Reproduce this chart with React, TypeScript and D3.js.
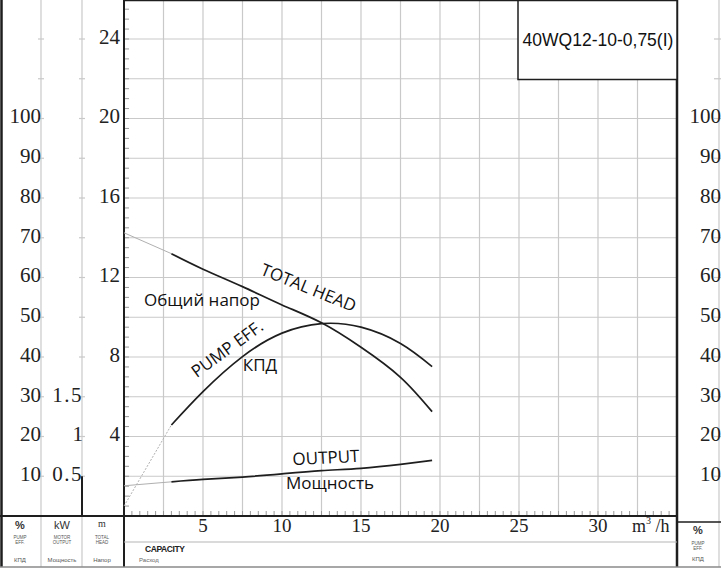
import React from "react";
import * as d3 from "d3";

// ---- data ----
const Q = [3, 5, 7.5, 10, 12.5, 15, 17.5, 19.5];
const HEAD = [13.2, 12.42, 11.54, 10.62, 9.72, 8.49, 6.98, 5.25];
const EFF = [22.9, 31.3, 40.1, 46.0, 48.4, 47.5, 43.4, 37.6];
const POWER = [0.43, 0.46, 0.49, 0.53, 0.57, 0.6, 0.65, 0.7];
const EXT_Q = [0, 3];
const HEAD_EXT = [14.25, 13.2];
const EFF_EXT = [2.5, 22.9];
const POWER_EXT = [0.38, 0.43];

const X_TICKS = [5, 10, 15, 20, 25, 30];
const HEAD_TICKS = [4, 8, 12, 16, 20, 24];
const EFF_TICKS = [10, 20, 30, 40, 50, 60, 70, 80, 90, 100];
const KW_TICKS = [0.5, 1, 1.5];
const MODEL = "40WQ12-10-0,75(I)";

const W = 721;
const H = 571;
const X0 = 124;
const X1 = 677;
const Y0 = 516;

const serif = "'Liberation Serif', 'DejaVu Serif', serif";
const sans = "'Open Sans', 'Liberation Sans', sans-serif";
const arial = "'Liberation Sans', Arial, sans-serif";
const GRID = "#c9c9c9";
const INK = "#1e1e1e";

export default function App() {
  const x = d3.scaleLinear().domain([0, 35]).range([X0, X1]);
  const yH = d3.scaleLinear().domain([0, 24]).range([Y0, 39]);
  const yE = d3.scaleLinear().domain([0, 100]).range([Y0, yH(20)]);
  const yP = d3.scaleLinear().domain([0, 0.5]).range([Y0, yH(2)]);

  const mk = (ys: number[], ysc: d3.ScaleLinear<number, number>, qs = Q, curve: any = d3.curveNatural) =>
    d3
      .line<number>()
      .x((_, i) => x(qs[i]))
      .y((v) => ysc(v))
      .curve(curve)(ys) || "";

  const vGrid = d3.range(1, 14).map((k) => k * 2.5);
  const hGrid = d3.range(1, 13).map((k) => k * 2);
  const minorH = d3.range(0, 26.01, 0.5);
  const minorQ = d3.range(0, 35.01, 0.5);
  const sideTicks = d3.range(1, 13).map((k) => yH(k * 2));

  return (
    <div style={{ position: "absolute", left: 0, top: 0 }}>
      <svg width={W} height={H} viewBox={`0 0 ${W} ${H}`} style={{ display: "block", background: "#fff" }}>
        <rect x={0} y={0} width={W} height={H} fill="#fff" />

        {/* plot grid */}
        {vGrid.map((q) => (
          <line key={"vg" + q} x1={x(q)} x2={x(q)} y1={0} y2={Y0} stroke={GRID} strokeWidth={1.2} />
        ))}
        {hGrid.map((h) => (
          <line key={"hg" + h} x1={X0} x2={X1} y1={yH(h)} y2={yH(h)} stroke={GRID} strokeWidth={1.2} />
        ))}
        {minorH.map((h) => (
          <line key={"mh" + h} x1={X0} x2={X0 + 5} y1={yH(h)} y2={yH(h)} stroke="#9a9a9a" strokeWidth={1} />
        ))}
        {minorQ.map((q) => (
          <line key={"mq" + q} x1={x(q)} x2={x(q)} y1={Y0} y2={Y0 - 5} stroke="#9a9a9a" strokeWidth={1} />
        ))}

        {/* left columns */}
        <line x1={41} x2={41} y1={0} y2={567} stroke={GRID} strokeWidth={1.2} />
        <line x1={82} x2={82} y1={0} y2={567} stroke={GRID} strokeWidth={1.2} />
        {sideTicks.map((y) => (
          <g key={"st" + y}>
            <line x1={38} x2={44} y1={y} y2={y} stroke={GRID} strokeWidth={1.2} />
            <line x1={79} x2={85} y1={y} y2={y} stroke={GRID} strokeWidth={1.2} />
            <line x1={714} x2={721} y1={y} y2={y} stroke={GRID} strokeWidth={1.2} />
          </g>
        ))}
        <line x1={82} x2={82} y1={yP(0.5)} y2={Y0} stroke={INK} strokeWidth={2} />
        <line x1={719} x2={719} y1={0} y2={567} stroke={GRID} strokeWidth={1.2} />

        {/* frame */}
        <line x1={1.5} x2={1.5} y1={0} y2={567} stroke={INK} strokeWidth={2.5} />
        <line x1={X0} x2={X0} y1={0} y2={567} stroke={INK} strokeWidth={2} />
        <line x1={X1} x2={X1} y1={0} y2={567} stroke={INK} strokeWidth={2.5} />
        <line x1={X0} x2={X1} y1={0.5} y2={0.5} stroke={INK} strokeWidth={1.5} />
        <line x1={0} x2={X1} y1={Y0} y2={Y0} stroke={INK} strokeWidth={2.2} />
        <line x1={X1} x2={W} y1={522} y2={522} stroke={INK} strokeWidth={1.5} />
        <line x1={X0} x2={X1} y1={542} y2={542} stroke="#b5b5b5" strokeWidth={1.2} />
        <line x1={0} x2={W} y1={567} y2={567} stroke="#8a8a8a" strokeWidth={1.5} />

        {/* model box */}
        <rect x={518} y={0.5} width={X1 - 518} height={79} fill="#fff" stroke={INK} strokeWidth={1.5} />
        <text x={598} y={41} textAnchor="middle" dominantBaseline="middle" fontFamily={arial} fontSize={17.5} fill="#111">
          {MODEL}
        </text>

        {/* axis labels */}
        {HEAD_TICKS.map((t) => (
          <text key={"ht" + t} x={120} y={yH(t)} textAnchor="end" dominantBaseline="middle" fontFamily={serif} fontSize={21} fill="#222">
            {t}
          </text>
        ))}
        {EFF_TICKS.map((t) => (
          <text key={"et" + t} x={41} y={yE(t)} textAnchor="end" dominantBaseline="middle" fontFamily={serif} fontSize={21} fill="#222">
            {t}
          </text>
        ))}
        {EFF_TICKS.map((t) => (
          <text key={"er" + t} x={721} y={yE(t)} textAnchor="end" dominantBaseline="middle" fontFamily={serif} fontSize={21} fill="#222">
            {t}
          </text>
        ))}
        {KW_TICKS.map((t) => (
          <text key={"kt" + t} x={83} y={yP(t)} textAnchor="end" dominantBaseline="middle" fontFamily={serif} fontSize={21} letterSpacing={t % 1 ? 1.5 : 0} fill="#222">
            {t}
          </text>
        ))}
        {X_TICKS.map((t) => (
          <text key={"xt" + t} x={x(t)} y={528} textAnchor="middle" dominantBaseline="middle" fontFamily={serif} fontSize={19} fill="#222">
            {t}
          </text>
        ))}
        <text x={632} y={528} dominantBaseline="middle" fontFamily={serif} fontSize={18} fill="#222">
          m<tspan fontSize={10} dy={-6}>3</tspan>
          <tspan dy={6}> /h</tspan>
        </text>

        {/* bottom table labels */}
        <text x={20} y={526} textAnchor="middle" dominantBaseline="middle" fontFamily={arial} fontSize={11} fontWeight="bold" fill="#333">%</text>
        <text x={62} y={526} textAnchor="middle" dominantBaseline="middle" fontFamily={arial} fontSize={11} fill="#333">kW</text>
        <text x={102} y={525} textAnchor="middle" dominantBaseline="middle" fontFamily={serif} fontSize={10} fill="#333">m</text>
        <text x={20} y={539} textAnchor="middle" fontFamily={arial} fontSize={4.5} fill="#555">PUMP</text>
        <text x={20} y={544} textAnchor="middle" fontFamily={arial} fontSize={4.5} fill="#555">EFF.</text>
        <text x={62} y={539} textAnchor="middle" fontFamily={arial} fontSize={4.5} fill="#555">MOTOR</text>
        <text x={62} y={544} textAnchor="middle" fontFamily={arial} fontSize={4.5} fill="#555">OUTPUT</text>
        <text x={102} y={539} textAnchor="middle" fontFamily={arial} fontSize={4.5} fill="#555">TOTAL</text>
        <text x={102} y={544} textAnchor="middle" fontFamily={arial} fontSize={4.5} fill="#555">HEAD</text>
        <text x={20} y={562} textAnchor="middle" fontFamily={arial} fontSize={6} fill="#555">КПД</text>
        <text x={62} y={562} textAnchor="middle" fontFamily={arial} fontSize={6} fill="#555">Мощность</text>
        <text x={102} y={562} textAnchor="middle" fontFamily={arial} fontSize={6} fill="#555">Напор</text>
        <text x={145} y={552} fontFamily={arial} fontSize={8.5} fontWeight="bold" letterSpacing={-0.4} fill="#222">CAPACITY</text>
        <text x={139} y={562} fontFamily={arial} fontSize={6} fill="#666">Расход</text>
        <text x={698} y={531} textAnchor="middle" dominantBaseline="middle" fontFamily={arial} fontSize={11} fontWeight="bold" fill="#333">%</text>
        <text x={698} y={545} textAnchor="middle" fontFamily={arial} fontSize={4.5} fill="#555">PUMP</text>
        <text x={698} y={550} textAnchor="middle" fontFamily={arial} fontSize={4.5} fill="#555">EFF.</text>
        <text x={698} y={561} textAnchor="middle" fontFamily={arial} fontSize={6} fill="#555">КПД</text>

        {/* curve extensions */}
        <path d={mk(HEAD_EXT, yH, EXT_Q, d3.curveLinear)} fill="none" stroke="#b0b0b0" strokeWidth={1} />
        <path d={mk(EFF_EXT, yE, EXT_Q, d3.curveLinear)} fill="none" stroke="#b0b0b0" strokeWidth={1} strokeDasharray="2 1.5" />
        <path d={mk(POWER_EXT, yP, EXT_Q, d3.curveLinear)} fill="none" stroke="#b0b0b0" strokeWidth={1} />

        {/* curves */}
        <path d={mk(HEAD, yH)} fill="none" stroke={INK} strokeWidth={1.7} />
        <path d={mk(EFF, yE)} fill="none" stroke={INK} strokeWidth={1.7} />
        <path d={mk(POWER, yP)} fill="none" stroke={INK} strokeWidth={1.7} />

        {/* curve labels */}
        <text transform="translate(308,289) rotate(22)" textAnchor="middle" dominantBaseline="middle" fontFamily={sans} fontSize={17} fill="#111">TOTAL HEAD</text>
        <text x={202} y={301} textAnchor="middle" dominantBaseline="middle" fontFamily={sans} fontSize={17} fill="#111">Общий напор</text>
        <text transform="translate(228,350) rotate(-36)" textAnchor="middle" dominantBaseline="middle" fontFamily={sans} fontSize={17} fill="#111">PUMP EFF.</text>
        <text x={260} y={366} textAnchor="middle" dominantBaseline="middle" fontFamily={sans} fontSize={17} fill="#111">КПД</text>
        <text transform="translate(326,459) rotate(-3)" textAnchor="middle" dominantBaseline="middle" fontFamily={sans} fontSize={17} fill="#111">OUTPUT</text>
        <text x={330} y={484} textAnchor="middle" dominantBaseline="middle" fontFamily={sans} fontSize={17} fill="#111">Мощность</text>
      </svg>
    </div>
  );
}
